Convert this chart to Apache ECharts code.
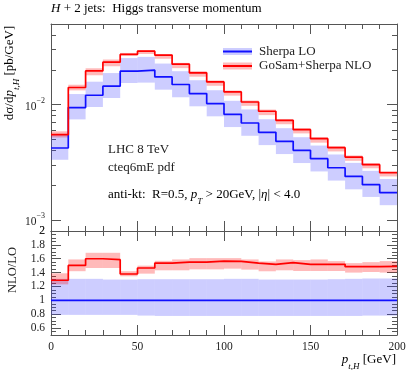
<!DOCTYPE html>
<html><head><meta charset="utf-8">
<script src="https://cdn.jsdelivr.net/npm/echarts@6/dist/echarts.min.js"></script>
<style>html,body{margin:0;padding:0;background:#fff}#c{width:409px;height:370px}</style>
</head><body><div id="c"></div>
<script>
// ---- data ----
const binEdges = [0,10,20,30,40,50,60,70,80,90,100,110,120,130,140,150,160,170,180,190,200];
const loCentral = [0.00420,0.00942,0.01205,0.01443,0.01948,0.01987,0.01738,0.01493,0.01246,0.01020,0.00823,0.00692,0.00574,0.00480,0.00401,0.00339,0.00283,0.00238,0.00202,0.00172];
const loHigh    = [0.00550,0.01234,0.01579,0.01876,0.02532,0.02593,0.02268,0.01948,0.01626,0.01331,0.01078,0.00907,0.00746,0.00624,0.00521,0.00441,0.00369,0.00312,0.00266,0.00226];
const loLow     = [0.00332,0.00744,0.00952,0.01140,0.01539,0.01550,0.01347,0.01157,0.00966,0.00791,0.00638,0.00536,0.00445,0.00372,0.00311,0.00263,0.00219,0.00184,0.00158,0.00134];
const nloCentral= [0.00548,0.01406,0.01959,0.02330,0.02723,0.02906,0.02685,0.02240,0.01884,0.01573,0.01288,0.01053,0.00875,0.00730,0.00606,0.00506,0.00423,0.00350,0.00301,0.00256];
const nloHigh   = [0.00586,0.01486,0.02065,0.02460,0.02805,0.02970,0.02740,0.02300,0.01950,0.01620,0.01325,0.01085,0.00905,0.00750,0.00625,0.00523,0.00436,0.00362,0.00311,0.00265];
const nloLow    = [0.00518,0.01327,0.01795,0.02150,0.02658,0.02746,0.02497,0.02070,0.01745,0.01455,0.01195,0.00975,0.00810,0.00675,0.00562,0.00467,0.00392,0.00325,0.00280,0.00238];
const ratioNlo     = [1.29,1.504,1.60,1.586,1.38,1.466,1.537,1.551,1.551,1.566,1.561,1.537,1.519,1.543,1.519,1.519,1.519,1.486,1.486,1.49];
const ratioNloHigh = [1.39,1.59,1.686,1.686,1.42,1.50,1.57,1.59,1.609,1.609,1.609,1.59,1.561,1.59,1.58,1.59,1.566,1.537,1.551,1.566];
const ratioNloLow  = [1.23,1.42,1.466,1.466,1.347,1.385,1.433,1.433,1.447,1.447,1.457,1.443,1.419,1.433,1.423,1.423,1.423,1.40,1.409,1.40];
const ratioLo      = [1,1,1,1,1,1,1,1,1,1,1,1,1,1,1,1,1,1,1,1];
const ratioLoHigh  = [1.31,1.31,1.31,1.30,1.30,1.305,1.305,1.305,1.305,1.305,1.31,1.31,1.30,1.30,1.30,1.30,1.305,1.31,1.315,1.315];
const ratioLoLow   = [0.79,0.79,0.79,0.79,0.79,0.78,0.775,0.775,0.775,0.775,0.775,0.775,0.775,0.775,0.775,0.775,0.775,0.775,0.78,0.78];
const topMajorTicks = [0.001,0.01];
const topMinorTicks = [0.002,0.003,0.004,0.005,0.006,0.007,0.008,0.009,0.02,0.03,0.04,0.05];
const botMajorTicks = [0.6,0.8,1,1.2,1.4,1.6,1.8,2];
const botTopLabel = '2';

// ---- style ----
const SERIF = '"Liberation Serif", "DejaVu Serif", serif';
const AX = '#555';
const BLUE = '#1010ff', RED = '#ff0000';
const BLUE_BAND = 'rgba(60,60,255,0.26)', RED_BAND = 'rgba(255,0,0,0.27)';

function stepData(vals){ const d = vals.map((v,i)=>[binEdges[i], v]); d.push([binEdges[vals.length], vals[vals.length-1]]); return d; }
function bandData(hi, lo){ return hi.map((h,i)=>[binEdges[i], binEdges[i+1], h, lo[i]]); }
function bandSeries(hi, lo, color, xi, yi){
  return { type:'custom', xAxisIndex:xi, yAxisIndex:yi, clip:true, silent:true,
    data: bandData(hi, lo), encode:{x:[0,1], y:[2,3]},
    renderItem(params, api){
      const p0 = api.coord([api.value(0), api.value(2)]);
      const p1 = api.coord([api.value(1), api.value(3)]);
      return {type:'rect', shape:{x:p0[0], y:p0[1], width:p1[0]-p0[0], height:p1[1]-p0[1]}, style:{fill:color}};
    }};
}
function lineSeries(vals, color, xi, yi){
  return { type:'line', xAxisIndex:xi, yAxisIndex:yi, step:'end', symbol:'none', silent:true,
    data: stepData(vals), lineStyle:{color, width:1.7}, z:5 };
}
function xAx(grid, pos, labels){
  return { type:'value', gridIndex:grid, position:pos, min:0, max:200, interval:50,
    axisLine:{show:true, onZero:false, lineStyle:{color:AX, width:1}},
    axisTick:{show:true, inside:true, length:10, lineStyle:{color:AX}},
    minorTick:{show:true, splitNumber:5, length:5, lineStyle:{color:AX}},
    axisLabel:{show:labels, fontFamily:SERIF, fontSize:11.5, color:'#222', margin:6, showMinLabel:true, showMaxLabel:true},
    splitLine:{show:false}, minorSplitLine:{show:false} };
}
const rich = {
  b:{fontFamily:SERIF, fontSize:11.5, color:'#222', lineHeight:16, verticalAlign:'bottom'},
  s:{fontFamily:SERIF, fontSize:8, color:'#222', lineHeight:8, verticalAlign:'top'}
};
function yTop(pos, ticks, len, labels, line){
  return { type:'log', logBase:10, gridIndex:0, position:pos, min:0.0008, max:0.05,
    axisLine:{show:line, onZero:false, lineStyle:{color:AX}},
    axisTick:{show:true, inside:true, length:len, customValues:ticks, lineStyle:{color:AX}},
    axisLabel:{show:labels, customValues:topMajorTicks, margin:6, showMinLabel:true, showMaxLabel:true,
      formatter:v=>{const e=Math.round(Math.log10(v)); return '{b|10}{s|'+(e<0?'\u2212':'')+Math.abs(e)+'}';}, rich},
    splitLine:{show:false} };
}
function yBot(pos, major, labels, line){
  const ax = { type:'value', gridIndex:1, position:pos, min:0.5, max:2,
    axisLine:{show:line, onZero:false, lineStyle:{color:AX}},
    axisLabel:{show:labels, margin:6, fontFamily:SERIF, fontSize:11.5, color:'#222', showMinLabel:true, showMaxLabel:true,
      hideOverlap:false, customValues:botMajorTicks, formatter:v=>String(Math.round(v*10)/10)},
    splitLine:{show:false} };
  if (major) { ax.axisTick = {show:true, inside:true, length:10, customValues:botMajorTicks, lineStyle:{color:AX}}; }
  else { ax.interval = 0.05; ax.axisTick = {show:true, inside:true, length:5, lineStyle:{color:AX}}; }
  return ax;
}

const txt = (x,y,text,extra)=>Object.assign({type:'text', x, y, style:Object.assign({text, fontFamily:SERIF, fontSize:13, fill:'#222', textVerticalAlign:'middle'}, extra||{})});
const richTxt = {
  n:{fontFamily:SERIF, fontSize:13, color:'#222', lineHeight:18, verticalAlign:'top'},
  i:{fontFamily:SERIF, fontSize:13, color:'#222', fontStyle:'italic', lineHeight:18, verticalAlign:'top'},
  sub:{fontFamily:SERIF, fontSize:9, color:'#222', fontStyle:'italic', lineHeight:13, verticalAlign:'bottom'},
  subn:{fontFamily:SERIF, fontSize:9, color:'#222', fontStyle:'italic', lineHeight:13, verticalAlign:'bottom'}
};

const chart = echarts.init(document.getElementById('c'), null, {renderer:'canvas'});
chart.setOption({
  animation:false,
  backgroundColor:'#fff',
  grid:[ {left:51, top:24, width:346, height:207}, {left:51, top:231, width:346, height:104} ],
  xAxis:[ xAx(0,'bottom',false), xAx(0,'top',false), xAx(1,'bottom',true), xAx(1,'top',false) ],
  yAxis:[
    yTop('left', topMajorTicks, 10, true, true),
    yTop('left', topMinorTicks, 5, false, false),
    yTop('right', topMajorTicks, 10, false, true),
    yTop('right', topMinorTicks, 5, false, false),
    yBot('left', true, true, true),
    yBot('left', false, false, false),
    yBot('right', true, false, true),
    yBot('right', false, false, false)
  ],
  series:[
    bandSeries(loHigh, loLow, BLUE_BAND, 0, 0),
    bandSeries(nloHigh, nloLow, RED_BAND, 0, 0),
    lineSeries(loCentral, BLUE, 0, 0),
    lineSeries(nloCentral, RED, 0, 0),
    bandSeries(ratioLoHigh, ratioLoLow, BLUE_BAND, 2, 4),
    bandSeries(ratioNloHigh, ratioNloLow, RED_BAND, 2, 4),
    lineSeries(ratioLo, BLUE, 2, 4),
    lineSeries(ratioNlo, RED, 2, 4)
  ],
  graphic:[
    {type:'text', x:51, y:11, style:{text:'{i|H}{n| + 2 jets:  Higgs transverse momentum}', rich:richTxt, textVerticalAlign:'middle'}},
    // top label of ratio axis (hidden by the library at the shared panel edge)
    {type:'text', x:45, y:231, style:{text:botTopLabel, fontFamily:SERIF, fontSize:11.5, fill:'#222', textAlign:'right', textVerticalAlign:'middle'}},
    // legend
    {type:'rect', shape:{x:223, y:48, width:29, height:7}, style:{fill:BLUE_BAND}},
    {type:'line', shape:{x1:223, y1:51.5, x2:252, y2:51.5}, style:{stroke:BLUE, lineWidth:2}},
    txt(259, 51.5, 'Sherpa LO'),
    {type:'rect', shape:{x:223, y:62.5, width:29, height:7}, style:{fill:RED_BAND}},
    {type:'line', shape:{x1:223, y1:66, x2:252, y2:66}, style:{stroke:RED, lineWidth:2}},
    txt(259, 66, 'GoSam+Sherpa NLO'),
    // annotations
    txt(108, 150, 'LHC 8 TeV'),
    txt(108, 167.5, 'cteq6mE pdf'),
    {type:'text', x:108, y:197, style:{text:'{n|anti-kt:  R=0.5, }{i|p}{subn|T}{n| > 20GeV, |}{i|\u03b7}{n|| < 4.0}', rich:richTxt, textVerticalAlign:'middle'}},
    // axis titles
    {type:'text', x:12, y:73, rotation:Math.PI/2, style:{text:'{n|d\u03c3/d}{i|p}{sub|t,H}{n| [pb/GeV]}', rich:richTxt, textAlign:'center', textVerticalAlign:'middle'}},
    {type:'text', x:13, y:270, rotation:Math.PI/2, style:{text:'NLO/LO', fontFamily:SERIF, fontSize:12.5, fill:'#222', textAlign:'center', textVerticalAlign:'middle'}},
    {type:'text', x:396, y:362, style:{text:'{i|p}{sub|t,H}{n| [GeV]}', rich:richTxt, textAlign:'right', textVerticalAlign:'middle'}}
  ]
});
</script></body></html>
